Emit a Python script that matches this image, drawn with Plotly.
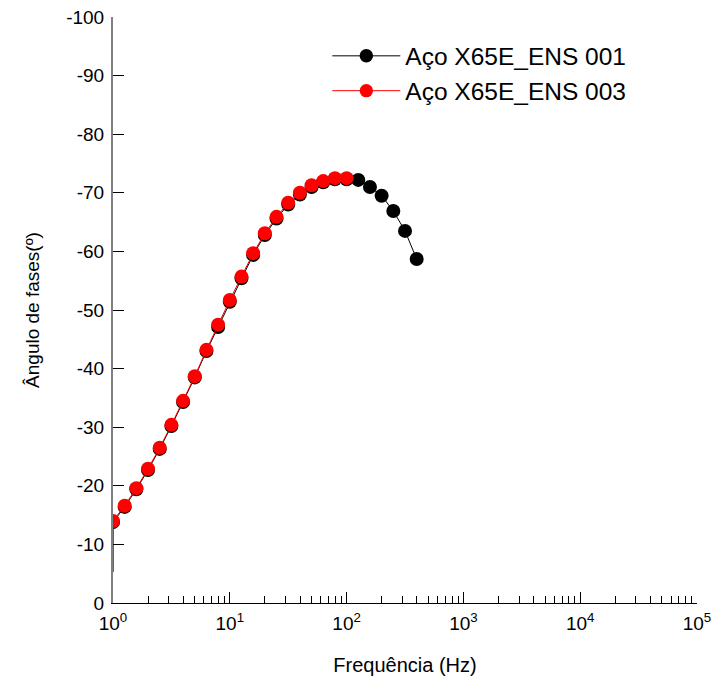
import plotly.graph_objects as go

freq = [1, 1, 1.259, 1.585, 1.995, 2.512, 3.162, 3.981, 5.012, 6.310, 7.943,
        10.0, 12.59, 15.85, 19.95, 25.12, 31.62, 39.81, 50.12, 63.10, 79.43,
        100.0, 125.9, 158.5, 199.5, 251.2, 316.2, 398.1]
phase_001 = [-5.3, -13.8, -16.4, -19.4, -22.7, -26.3, -30.2, -34.3, -38.5, -43.0, -47.1,
             -51.4, -55.4, -59.4, -62.8, -65.6, -68.0, -69.7, -71.0, -71.8, -72.3,
             -72.3, -72.2, -71.0, -69.5, -66.9, -63.5, -58.7]
phase_003 = [-5.3, -14.0, -16.6, -19.6, -22.9, -26.5, -30.4, -34.5, -38.7, -43.2, -47.5,
             -51.7, -55.7, -59.7, -63.1, -65.9, -68.3, -70.0, -71.3, -72.0, -72.5,
             -72.5]
freq_003 = freq[:len(phase_003)]

x_tickvals = [1, 10, 100, 1000, 10000, 100000]
x_ticktext = ["10<sup>0</sup>", "10<sup>1</sup>", "10<sup>2</sup>",
              "10<sup>3</sup>", "10<sup>4</sup>", "10<sup>5</sup>"]
y_tickvals = [0, -10, -20, -30, -40, -50, -60, -70, -80, -90, -100]
y_ticktext = ["0", "-10", "-20", "-30", "-40", "-50", "-60", "-70", "-80", "-90", "-100"]

minor_vals = [m * 10 ** d for d in range(5) for m in range(2, 10)]

sizes_001 = [0] + [14] * (len(freq) - 1)
sizes_003 = [0] + [14] * (len(freq_003) - 1)

fig = go.Figure()
fig.add_trace(go.Scatter(
    x=freq, y=phase_001, mode="lines+markers", name="Aço X65E_ENS 001",
    line=dict(color="black", width=1),
    marker=dict(color="black", size=sizes_001, opacity=1, line=dict(width=0)),
))
fig.add_trace(go.Scatter(
    x=freq_003, y=phase_003, mode="lines+markers", name="Aço X65E_ENS 003",
    line=dict(color="#ff0000", width=1),
    marker=dict(color="#ff0000", size=sizes_003, opacity=1, line=dict(width=0)),
))

font_family = "Liberation Sans, Arial, sans-serif"
fig.update_layout(
    width=713, height=668,
    margin=dict(l=105, r=24, t=9, b=73, autoexpand=False),
    paper_bgcolor="white", plot_bgcolor="white",
    font=dict(family=font_family, color="black", size=19),
    showlegend=True,
    legend=dict(x=0.367, y=0.972, xanchor="left", yanchor="top",
                font=dict(size=24.5, family=font_family),
                bgcolor="rgba(0,0,0,0)", itemwidth=68, tracegroupgap=0),
    xaxis=dict(
        type="log", range=[0, 5], automargin=False,
        tickmode="array", tickvals=x_tickvals, ticktext=x_ticktext,
        ticks="inside", ticklen=11, tickcolor="black", tickwidth=1,
        showline=True, linecolor="black", linewidth=1,
        showgrid=False, zeroline=False,
        ticklabelstandoff=3, ticklabeloverflow="allow",
        minor=dict(tickmode="array", tickvals=minor_vals, ticks="inside",
                   ticklen=7, tickcolor="black", tickwidth=1, showgrid=False),
        title=dict(text="Frequência (Hz)", font=dict(size=20), standoff=28),
        tickfont=dict(size=19),
    ),
    yaxis=dict(
        range=[0, -100], automargin=False,
        tickmode="array", tickvals=y_tickvals, ticktext=y_ticktext,
        ticks="inside", ticklen=11, tickcolor="black", tickwidth=1,
        showline=True, linecolor="#808080", linewidth=2,
        showgrid=False, zeroline=False,
        ticklabelstandoff=3, ticklabeloverflow="allow",
        title=dict(text="Ângulo de fases(º)", font=dict(size=19), standoff=22),
        tickfont=dict(size=19),
    ),
)

fig.write_html("out.html")
